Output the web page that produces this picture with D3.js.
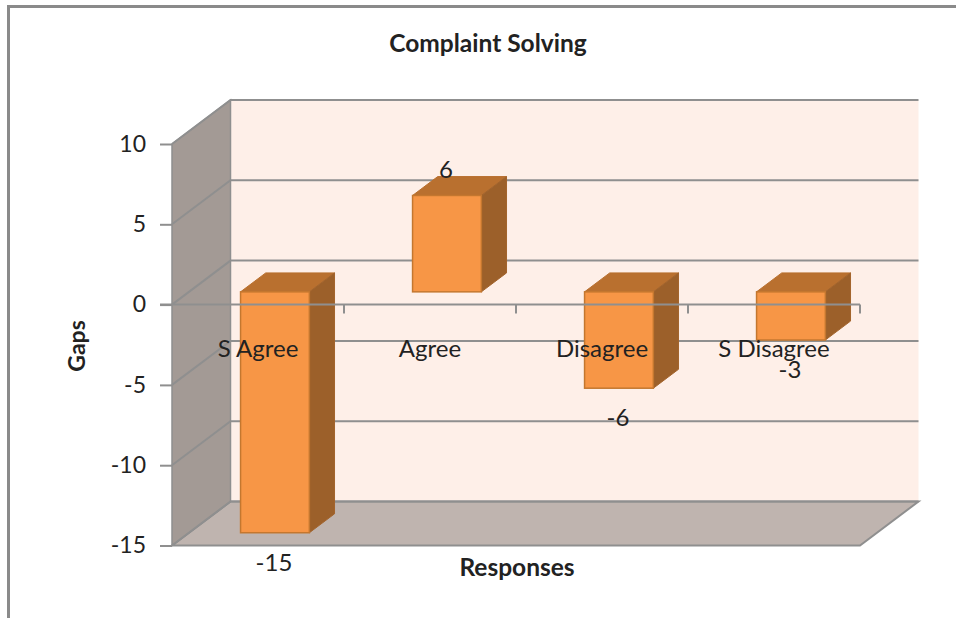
<!DOCTYPE html>
<html>
<head>
<meta charset="utf-8">
<script src="https://cdn.jsdelivr.net/npm/d3@7"></script>
<style>
  html, body { margin: 0; padding: 0; background: #fff; }
  text { font-family: Lato, "Open Sans", sans-serif; fill: #222; }
</style>
</head>
<body>
<div id="myplot"></div>
<script>
var categories = ["S Agree", "Agree", "Disagree", "S Disagree"];
var gaps = [-15, 6, -6, -3];
var yTicks = [-15, -10, -5, 0, 5, 10];

var width = 956, height = 618;

// depth of the 3d box, and where the bars sit inside it
var depthX = 58.5, depthY = 44;
var barFront = 0.29, barBack = 0.72;

var y = d3.scaleLinear().domain([-15, 10]).range([545.5, 144]);
var x = d3.scaleBand().domain(categories).range([172, 860])
  .paddingInner(0.6).paddingOuter(0.3);

var left = x.range()[0], right = x.range()[1];
var bottom = y(-15), top_ = y(10);

var gridColor = "#8f8f8f";

var svg = d3.select("div#myplot")
  .append("svg")
  .attr("width", width)
  .attr("height", height)
  .style("display", "block");

// outer frame of the picture, only top and left show
svg.append("path")
  .attr("d", "M8.5,618V6.5H956")
  .attr("fill", "none")
  .attr("stroke", "#8a8a8a")
  .attr("stroke-width", 3);

function poly(points) {
  return "M" + points.map(p => p.join(",")).join("L") + "Z";
}

// walls and floor
svg.append("rect")
  .attr("x", left + depthX).attr("y", top_ - depthY)
  .attr("width", right - left)
  .attr("height", bottom - top_)
  .attr("fill", "#feefe8");

svg.append("path")
  .attr("d", poly([[left, bottom], [left + depthX, bottom - depthY],
    [right + depthX, bottom - depthY], [right, bottom]]))
  .attr("fill", "#bfb4af")
  .attr("stroke", gridColor)
  .attr("stroke-width", 2);

svg.append("path")
  .attr("d", poly([[left, top_], [left + depthX, top_ - depthY],
    [left + depthX, bottom - depthY], [left, bottom]]))
  .attr("fill", "#a39a95")
  .attr("stroke", gridColor)
  .attr("stroke-width", 1.5);

// gridlines run along the side wall and then across the back
svg.append("g")
  .selectAll("path")
  .data(yTicks)
  .enter()
  .append("path")
  .attr("d", d => "M" + left + "," + y(d) + "L" + (left + depthX) + "," + (y(d) - depthY)
    + "H" + (right + depthX))
  .attr("fill", "none")
  .attr("stroke", gridColor)
  .attr("stroke-width", 2);

// bars, each one is three faces
var bars = svg.append("g")
  .selectAll("g")
  .data(categories)
  .enter()
  .append("g");

var fx = d => x(d) + barFront * depthX;
var fy = barFront * depthY;
var dx = (barBack - barFront) * depthX;
var dy = (barBack - barFront) * depthY;
var barTop = i => y(Math.max(gaps[i], 0)) - fy;
var barBottom = i => y(Math.min(gaps[i], 0)) - fy;

bars.append("path")
  .attr("d", (d, i) => poly([[fx(d), barTop(i)], [fx(d) + dx, barTop(i) - dy],
    [fx(d) + x.bandwidth() + dx, barTop(i) - dy], [fx(d) + x.bandwidth(), barTop(i)]]))
  .attr("fill", "#b9702f")
  .attr("stroke", "#b9702f");

bars.append("path")
  .attr("d", (d, i) => poly([[fx(d) + x.bandwidth(), barTop(i)],
    [fx(d) + x.bandwidth() + dx, barTop(i) - dy],
    [fx(d) + x.bandwidth() + dx, barBottom(i) - dy],
    [fx(d) + x.bandwidth(), barBottom(i)]]))
  .attr("fill", "#9c602a")
  .attr("stroke", "#a3642c");

bars.append("rect")
  .attr("x", d => fx(d))
  .attr("y", (d, i) => barTop(i))
  .attr("width", x.bandwidth())
  .attr("height", (d, i) => barBottom(i) - barTop(i))
  .attr("fill", "#f79646")
  .attr("stroke", "#c4772f")
  .attr("stroke-width", 1.5);

// value axis, plain hyphen for the minus like the original
var yAxis = svg.append("g")
  .attr("transform", "translate(" + left + ",0)")
  .call(d3.axisLeft(y).tickValues(yTicks).tickSize(12).tickPadding(14).tickFormat(d => String(d)));
yAxis.selectAll("line").attr("stroke", gridColor).attr("stroke-width", 2);
yAxis.select(".domain").remove();
yAxis.selectAll("text").attr("font-size", 23).attr("font-family", "Lato").attr("fill", "#222");

// category axis sits on zero, labels drop below it
var xAxis = svg.append("g")
  .attr("transform", "translate(0," + y(0) + ")")
  .call(d3.axisBottom(x).tickSize(0).tickPadding(35));
xAxis.select(".domain").remove();
xAxis.selectAll("text").attr("font-size", 24).attr("font-family", "Lato").attr("fill", "#222");

svg.append("line")
  .attr("x1", left - 12).attr("x2", right)
  .attr("y1", y(0)).attr("y2", y(0))
  .attr("stroke", gridColor)
  .attr("stroke-width", 2);

svg.append("g")
  .selectAll("line")
  .data(categories)
  .enter()
  .append("line")
  .attr("x1", d => x(d) + x.bandwidth() + x.step() * x.paddingInner() / 2)
  .attr("x2", d => x(d) + x.bandwidth() + x.step() * x.paddingInner() / 2)
  .attr("y1", y(0))
  .attr("y2", y(0) + 9)
  .attr("stroke", gridColor)
  .attr("stroke-width", 2);

// value labels
svg.append("g")
  .selectAll("text")
  .data(gaps)
  .enter()
  .append("text")
  .attr("x", (d, i) => fx(categories[i]) + x.bandwidth() / 2 - 1)
  .attr("y", (d, i) => d > 0 ? barTop(i) - 17 : barBottom(i) + 38)
  .attr("text-anchor", "middle")
  .attr("font-size", 24)
  .text(d => d);

// titles
svg.append("text")
  .attr("x", 488).attr("y", 52)
  .attr("text-anchor", "middle")
  .attr("font-size", 24.5)
  .attr("font-weight", "bold")
  .attr("fill", "#111")
  .text("Complaint Solving");

svg.append("text")
  .attr("x", 517).attr("y", 576)
  .attr("text-anchor", "middle")
  .attr("font-size", 24.5)
  .attr("font-weight", "bold")
  .text("Responses");

svg.append("text")
  .attr("transform", "translate(85,346) rotate(-90)")
  .attr("text-anchor", "middle")
  .attr("font-size", 23)
  .attr("font-weight", "bold")
  .text("Gaps");
</script>
</body>
</html>
